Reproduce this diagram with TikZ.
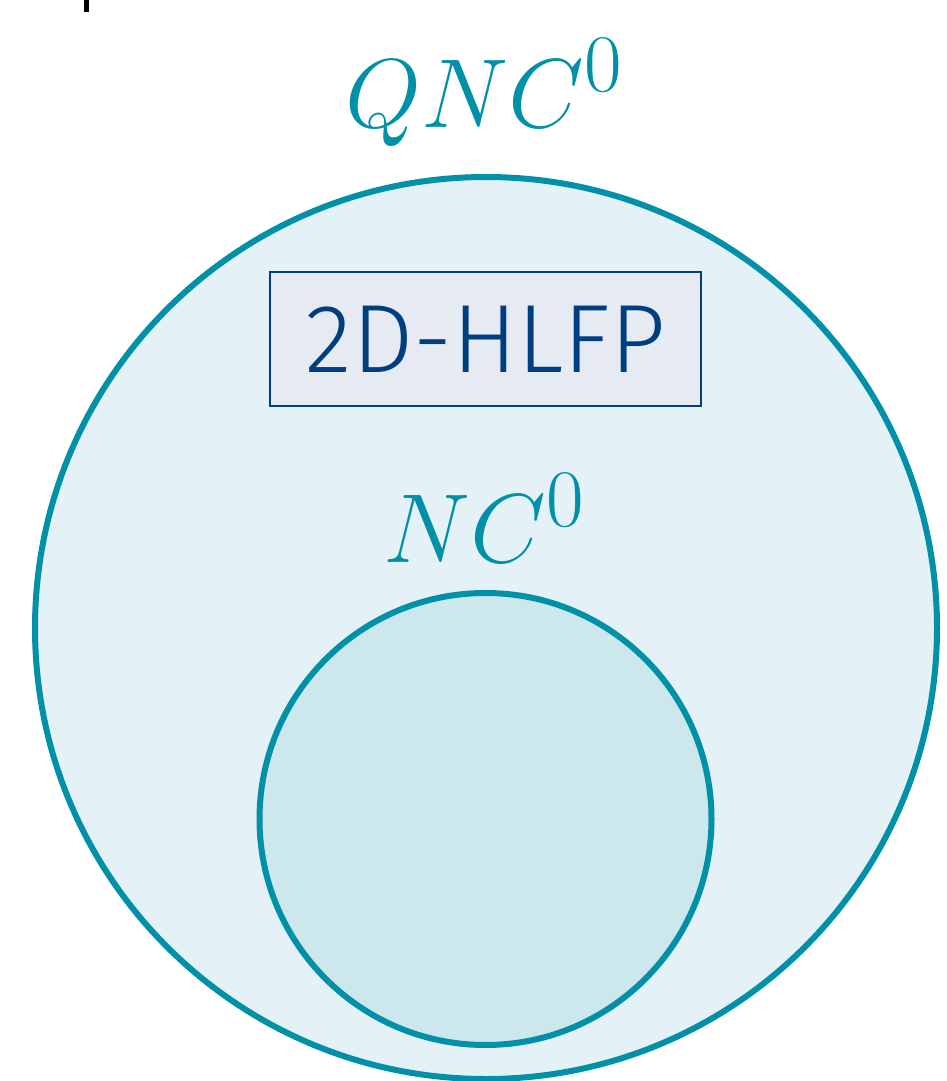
\documentclass[tikz,border=0pt]{standalone}
\usepackage{fontspec}
\newfontfamily\hlfpfont{Fira Sans Light}
\definecolor{teal}{HTML}{0090A8}
\definecolor{bigfill}{HTML}{E4F2F7}
\definecolor{smallfill}{HTML}{CCE8EC}
\definecolor{boxfill}{HTML}{E6EAF2}
\definecolor{navy}{HTML}{003F7F}
\tikzset{
  classcircle/.style={draw=teal, line width=6pt},
  classlabel/.style={text=teal, font=\Huge, scale=3.94, inner sep=0pt, anchor=base},
  problembox/.style={draw=navy, fill=boxfill, line width=1.8pt, minimum width=431pt, minimum height=134pt, inner sep=0pt, text=navy, font=\hlfpfont\fontsize{97}{100}\selectfont}
}
\begin{document}
\begin{tikzpicture}[x=1pt,y=-1pt]
\useasboundingbox (0,0) rectangle (947,1081);
\fill[black] (84,0) rectangle (89,12);
\node[classcircle, fill=bigfill, circle, minimum size=902pt, inner sep=0pt] (qnc) at (486,628) {};
\node[classcircle, fill=smallfill, circle, minimum size=452pt, inner sep=0pt] (nc) at (485.5,819) {};
\node[classlabel] (qnclabel) at (485,127) {$QNC^0$};
\node[classlabel] (nclabel) at (485,562) {$NC^0$};
\node[problembox] (hlfp) at (485.5,339) {2D-HLFP};
\end{tikzpicture}
\end{document}
